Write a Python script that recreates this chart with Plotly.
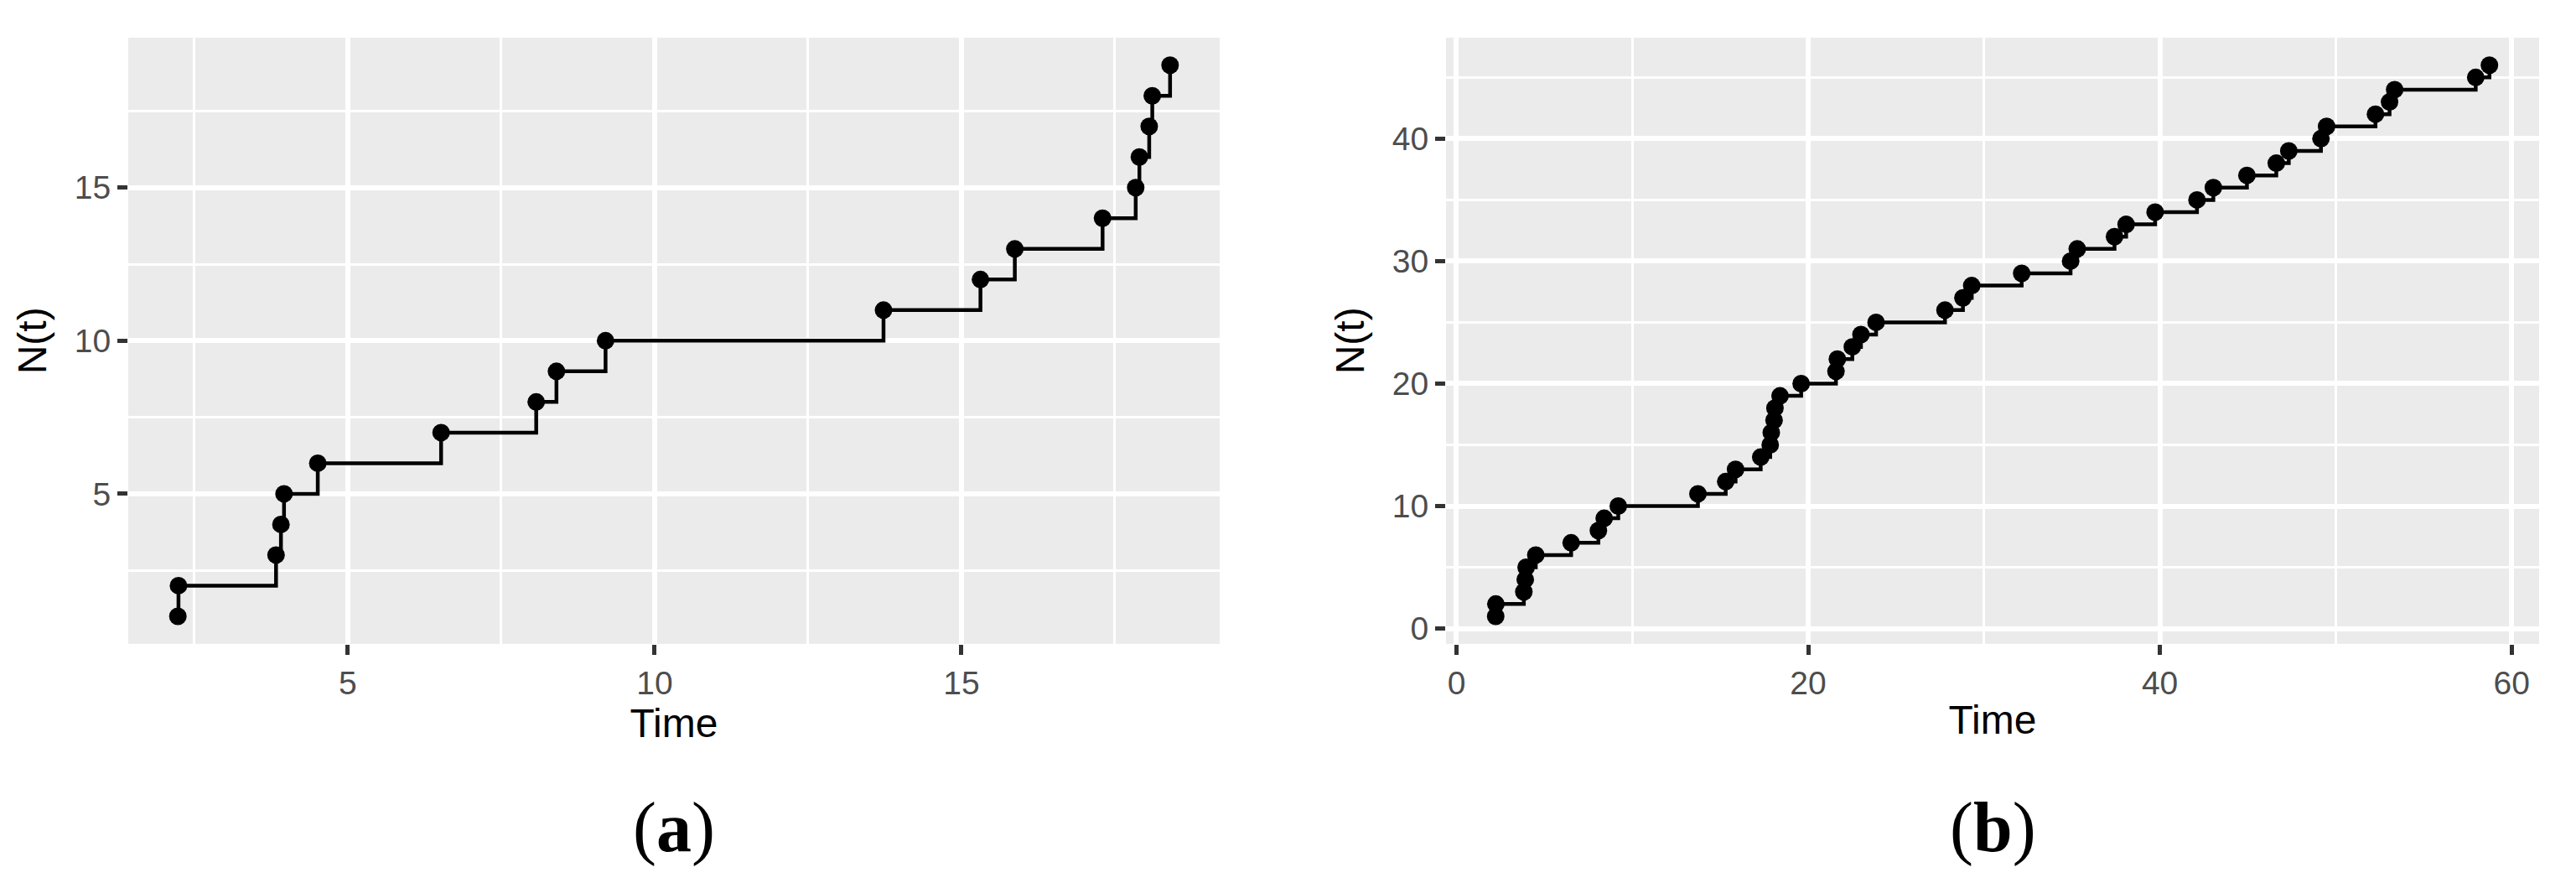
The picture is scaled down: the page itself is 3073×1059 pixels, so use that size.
import plotly.graph_objects as go

# ---- data ----
times_a = [2.23, 2.24, 3.83, 3.91, 3.96, 4.51, 6.52, 8.07, 8.40, 9.20,
           13.73, 15.31, 15.87, 17.30, 17.84, 17.90, 18.06, 18.11, 18.40]
counts_a = [1, 2, 3, 4, 5, 6, 7, 8, 9, 10, 11, 12, 13, 14, 15, 16, 17, 18, 19]

times_b = [2.23, 2.24, 3.83, 3.91, 3.96, 4.51, 6.52, 8.07, 8.40, 9.20,
           13.73, 15.31, 15.87, 17.30, 17.84, 17.90, 18.06, 18.11, 18.40,
           19.60, 21.58, 21.66, 22.51, 23.00, 23.86, 27.78, 28.80, 29.30,
           32.14, 34.92, 35.30, 37.42, 38.08, 39.73, 42.11, 43.04, 44.95,
           46.62, 47.33, 49.16, 49.48, 52.26, 53.06, 53.35, 57.96, 58.74]
counts_b = [1, 2, 3, 4, 5, 6, 7, 8, 9, 10, 11, 12, 13, 14, 15, 16, 17, 18, 19,
            20, 21, 22, 23, 24, 25, 26, 27, 28, 29, 30, 31, 32, 33, 34, 35, 36,
            37, 38, 39, 40, 41, 42, 43, 44, 45, 46]

panel_labels = ["(<b>a</b>)", "(<b>b</b>)"]
x_title = "Time"
y_title = "N(t)"

W, H = 3073, 1059


def expand(vals, frac=0.05):
    lo, hi = min(vals), max(vals)
    pad = (hi - lo) * frac
    return [lo - pad, hi + pad]


fig = go.Figure()

for i, (tx, cy) in enumerate([(times_a, counts_a), (times_b, counts_b)]):
    xa = "x" if i == 0 else "x2"
    ya = "y" if i == 0 else "y2"
    fig.add_trace(go.Scatter(x=tx, y=cy, mode="lines", line=dict(shape="hv", color="black", width=4.5),
                             xaxis=xa, yaxis=ya, showlegend=False, hoverinfo="skip"))
    fig.add_trace(go.Scatter(x=tx, y=cy, mode="markers", marker=dict(color="black", size=21),
                             xaxis=xa, yaxis=ya, showlegend=False))

ydom = [1 - 770 / H, 1 - 45 / H]
dom_a = [153 / W, 1455 / W]
dom_b = [1725 / W, 3029 / W]

tickfont = dict(family="Liberation Sans, Arial, sans-serif", size=39, color="#4D4D4D")
titlefont = dict(family="Liberation Sans, Arial, sans-serif", size=48, color="black")

common = dict(showline=False, zeroline=False, showgrid=True, gridcolor="white", gridwidth=6,
              ticks="outside", ticklen=12, tickwidth=5, tickcolor="#333333",
              tickfont=tickfont, title_font=titlefont)


def axis(dom, rng, dtick, mdtick, anchor, title, standoff):
    d = dict(common)
    d.update(domain=dom, range=rng, dtick=dtick, tick0=0, anchor=anchor,
             minor=dict(dtick=mdtick, tick0=0, showgrid=True, gridcolor="white", gridwidth=3, ticks=""),
             title=dict(text=title, standoff=standoff))
    return d


fig.update_layout(
    width=W, height=H,
    margin=dict(l=0, r=0, t=0, b=0),
    paper_bgcolor="white", plot_bgcolor="#EBEBEB",
    xaxis=axis(dom_a, expand(times_a), 5, 2.5, "y", x_title, 6),
    yaxis=axis(ydom, expand(counts_a), 5, 2.5, "x", y_title, 18),
    xaxis2=axis(dom_b, expand(times_b), 20, 10, "y2", x_title, 6),
    yaxis2=axis(ydom, expand(counts_b), 10, 5, "x2", y_title, 18),
)

for lab, dom in zip(panel_labels, [dom_a, dom_b]):
    fig.add_annotation(text=lab, xref="paper", yref="paper",
                       x=(dom[0] + dom[1]) / 2, y=1 - 990 / H, xanchor="center", yanchor="middle",
                       showarrow=False,
                       font=dict(family="Liberation Serif, Times New Roman, serif", size=84, color="black"))

fig.write_html("out.html", config={"displayModeBar": False},
               post_script="document.body.style.margin='0';document.body.style.overflow='hidden';")
